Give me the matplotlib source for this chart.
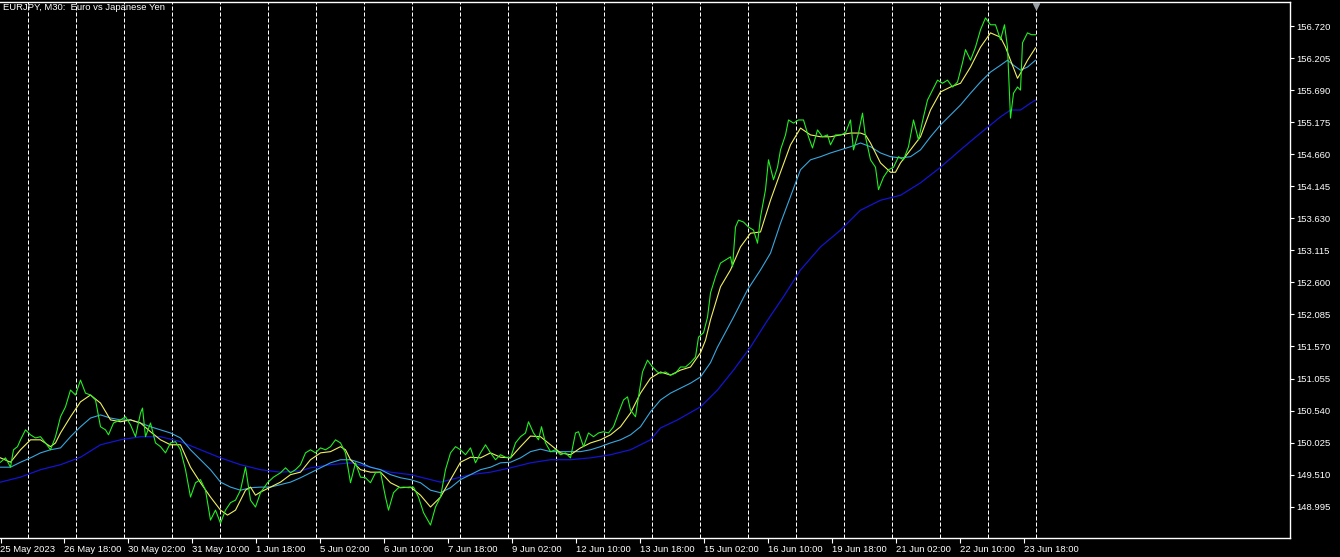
import matplotlib
matplotlib.use("Agg")
import matplotlib.pyplot as plt
import numpy as np

# ---------------- data (M30 bars, bar index from 25 May 2023 10:30) ----------------
title = "EURJPY, M30:  Euro vs Japanese Yen"

close_bar = [0,5,10,13,17,20,25,30,35,40,45,50,55,60,65,70,75,80,85,90,95,100,105,108,113,120,125,130,135,140,142,145,150,155,160,165,170,175,180,185,190,195,200,205,210,215,220,225,230,235,240,245,250,255,260,267,273,280,285,290,295,300,305,310,315,320,325,330,335,340,345,350,355,360,365,370,375,380,385,388,393,398,403,408,413,418,423,430,435,440,445,450,455,460,465,470,475,480,485,490,495,500,505,510,515,520,525,528,533,538,541,545,550,555,560,565,570,575,578,583,588,593,598,603,608,613,618,623,627,630,635,638,642,647,652,657,660,665,670,675,680,685,690,695,698,703,707,710,715,720,725,730,732,735,738,743,748,753,757,760,765,768,773,777,780,785,788,793,798,803,808,812,817,822,827,830,835,840,845,850,853,858,862,865,870,875,878,883,888,893,898,903,908,913,918,923,927,932,937,942,947,952,957,962,965,970,975,980,985,990,995,1000,1004,1007,1010,1013,1017,1020,1022,1027,1031,1035]
close_px = [149.71,149.78,149.63,149.91,149.96,150.07,150.23,150.15,150.10,150.12,150.02,149.91,150.12,150.44,150.60,150.87,150.79,151.03,150.82,150.79,150.71,150.28,150.23,150.15,150.34,150.39,150.44,150.31,150.12,150.50,150.58,150.12,150.34,150.02,149.96,149.86,150.02,150.04,149.91,149.59,149.15,149.38,149.43,149.26,148.78,148.94,148.73,148.94,149.06,149.10,149.26,149.63,149.10,148.99,149.22,149.38,149.47,149.54,149.62,149.54,149.59,149.67,149.86,149.91,149.86,149.94,149.91,149.96,150.07,150.02,149.86,149.38,149.70,149.47,149.46,149.38,149.54,149.55,149.15,148.94,149.22,149.30,149.31,149.30,149.31,149.15,148.90,148.70,148.99,149.15,149.59,149.86,149.96,149.91,149.83,149.94,149.70,149.86,149.99,149.86,149.75,149.83,149.79,149.78,150.02,150.12,150.18,150.36,150.18,150.07,150.28,150.02,149.88,149.91,149.83,149.86,149.78,150.18,150.20,149.96,150.18,150.12,150.18,150.20,150.18,150.28,150.50,150.71,150.76,150.55,150.44,150.76,151.16,151.35,151.24,151.16,151.14,151.16,151.11,151.14,151.24,151.24,151.31,151.40,151.72,151.79,152.04,152.43,152.69,152.91,152.96,153.01,152.85,153.49,153.60,153.57,153.49,153.44,153.23,153.65,154.09,154.57,154.25,154.45,154.73,154.97,155.21,155.16,155.21,155.21,154.94,154.76,155.05,154.94,154.97,154.81,154.97,154.97,155.00,155.21,154.73,155.00,155.32,154.94,154.57,154.45,154.09,154.29,154.41,154.45,154.62,154.57,154.78,155.21,154.89,155.26,155.53,155.69,155.85,155.80,155.85,155.74,155.82,156.13,156.34,156.17,156.38,156.66,156.85,156.74,156.74,156.50,156.74,156.38,155.24,155.64,155.74,155.69,156.45,156.61,156.58,156.58]

fast_bar = [0,10,20,30,40,50,55,60,70,80,90,100,110,120,130,140,150,160,170,180,190,200,210,220,227,235,245,250,255,260,270,280,290,300,310,320,330,340,345,350,360,370,380,390,400,410,420,430,440,450,460,470,480,490,500,510,520,530,540,550,560,570,580,590,600,610,620,630,640,650,660,670,680,690,700,705,710,720,730,740,750,760,770,780,790,800,810,820,830,840,850,860,865,870,880,890,895,900,910,920,930,940,950,960,970,980,990,1000,1005,1010,1017,1020,1027,1035]
fast_px = [149.78,149.71,149.91,150.07,150.07,149.96,150.02,150.18,150.44,150.68,150.79,150.66,150.39,150.36,150.39,150.34,150.20,150.07,149.99,149.99,149.63,149.38,149.15,148.94,148.86,148.94,149.26,149.31,149.18,149.23,149.31,149.39,149.51,149.55,149.75,149.86,149.88,149.96,149.91,149.75,149.59,149.55,149.55,149.38,149.30,149.31,149.18,148.99,149.15,149.43,149.71,149.79,149.78,149.86,149.79,149.78,149.96,150.13,150.12,149.99,149.86,149.83,149.94,150.02,150.07,150.15,150.28,150.50,150.82,151.06,151.16,151.11,151.19,151.24,151.47,151.67,152.00,152.53,152.80,153.17,153.39,153.41,153.92,154.37,154.81,155.08,154.97,154.94,154.94,154.97,155.00,155.00,154.97,154.84,154.52,154.37,154.37,154.52,154.73,154.94,155.37,155.66,155.74,155.80,156.06,156.38,156.61,156.54,156.38,156.17,155.88,155.96,156.17,156.37]

mid_bar = [0,10,20,30,40,50,60,70,80,90,100,110,120,130,140,150,160,170,180,190,200,210,220,230,240,250,260,270,280,290,300,310,320,330,340,350,360,370,380,390,400,410,420,430,440,450,460,470,480,490,500,510,520,530,540,550,560,570,580,590,600,610,620,630,640,650,660,670,680,690,700,710,717,733,747,760,770,780,790,800,810,820,830,840,850,860,870,880,890,900,910,920,930,940,950,960,970,980,990,1000,1007,1013,1020,1027,1035]
mid_px = [149.63,149.63,149.71,149.78,149.86,149.91,149.94,150.12,150.28,150.42,150.47,150.42,150.39,150.39,150.34,150.28,150.23,150.18,150.10,149.91,149.75,149.59,149.39,149.31,149.26,149.30,149.31,149.31,149.35,149.39,149.46,149.54,149.62,149.70,149.75,149.75,149.70,149.63,149.59,149.51,149.46,149.43,149.38,149.26,149.22,149.30,149.43,149.51,149.59,149.63,149.70,149.71,149.78,149.88,149.92,149.88,149.88,149.88,149.88,149.91,149.96,150.02,150.07,150.15,150.28,150.52,150.71,150.82,150.90,150.98,151.08,151.31,151.56,152.04,152.48,152.80,153.07,153.55,153.98,154.41,154.57,154.62,154.68,154.73,154.78,154.84,154.78,154.68,154.62,154.60,154.62,154.73,154.94,155.13,155.29,155.45,155.64,155.82,155.98,156.09,156.17,156.09,156.01,156.06,156.17]

slow_bar = [0,20,40,60,80,100,120,140,160,180,200,220,240,260,280,300,310,330,350,370,390,410,430,440,450,470,490,510,530,550,570,590,610,630,650,660,677,700,717,733,750,767,783,800,820,840,860,880,900,920,940,960,980,1000,1010,1020,1030,1035]
slow_px = [149.39,149.47,149.59,149.67,149.79,149.99,150.07,150.12,150.12,150.04,149.91,149.78,149.67,149.59,149.55,149.57,149.62,149.67,149.70,149.63,149.55,149.51,149.43,149.39,149.43,149.51,149.55,149.62,149.70,149.75,149.75,149.78,149.83,149.91,150.07,150.26,150.39,150.60,150.87,151.19,151.56,151.99,152.37,152.80,153.17,153.44,153.76,153.92,154.00,154.20,154.45,154.73,155.00,155.26,155.37,155.37,155.48,155.53]

price_ticks = [148.995,149.510,150.025,150.540,151.055,151.570,152.085,152.600,
               153.115,153.630,154.145,154.660,155.175,155.690,156.205,156.720]

date_tick_bar = [0,63,127,191,255,319,383,447,511,575,639,703,767,831,895,959,1023]
date_tick_lbl = ["25 May 2023","26 May 18:00","30 May 02:00","31 May 10:00","1 Jun 18:00",
                 "5 Jun 02:00","6 Jun 10:00","7 Jun 18:00","9 Jun 02:00","12 Jun 10:00",
                 "13 Jun 18:00","15 Jun 02:00","16 Jun 10:00","19 Jun 18:00","21 Jun 02:00",
                 "22 Jun 10:00","23 Jun 18:00"]

day_start_bar = list(range(27, 1036, 48))   # 00:00 of each trading day
last_bar = 1035

# ---------------- figure ----------------
W, H = 1340, 557
fig = plt.figure(figsize=(W/100, H/100), dpi=100, facecolor="black")
ax = fig.add_axes([0, 1-538/H, 1290/W, (538-2)/H], facecolor="black")

FONT = "Liberation Sans"
fs = 6.8

for b in day_start_bar:
    ax.axvline(b, color="white", lw=0.72, ls=(0, (4, 2)), zorder=1)

ax.plot(slow_bar, slow_px, color="#1414d2", lw=0.9, zorder=2)
ax.plot(mid_bar, mid_px, color="#38a8e0", lw=0.8, zorder=3)
ax.plot(fast_bar, fast_px, color="#f0f060", lw=0.8, zorder=4)
ax.plot(close_bar, close_px, color="#22ee22", lw=0.8, zorder=5)

ax.set_xlim(-0.5, 1289.5)
ax.set_ylim(148.492, 157.106)

# spines
for s in ["top", "right", "bottom"]:
    ax.spines[s].set_color("white")
    ax.spines[s].set_linewidth(1.0)
ax.spines["left"].set_visible(False)

ax.yaxis.tick_right()
ax.set_yticks(price_ticks)
ax.set_yticklabels([f"{v:.3f}" for v in price_ticks], fontsize=fs, family=FONT, color="white")
ax.tick_params(axis="y", direction="out", length=3, width=0.8, color="white", pad=1.5)

ax.set_xticks(date_tick_bar)
ax.set_xticklabels(date_tick_lbl, fontsize=fs, family=FONT, color="white", ha="left")
ax.tick_params(axis="x", direction="out", length=3.5, width=0.8, color="white", pad=1.5)
for lbl in ax.get_xticklabels():
    lbl.set_x(lbl.get_position()[0])

# shift marker
ax.plot([last_bar], [0.993], marker="v", ms=5, color="#9aa0a8", transform=ax.get_xaxis_transform(),
        clip_on=False, zorder=6)

fig.text(3/W, 1-8/H, title, fontsize=fs, family=FONT, color="white", va="center", ha="left")

fig.savefig("out.png", dpi=100, facecolor="black")
